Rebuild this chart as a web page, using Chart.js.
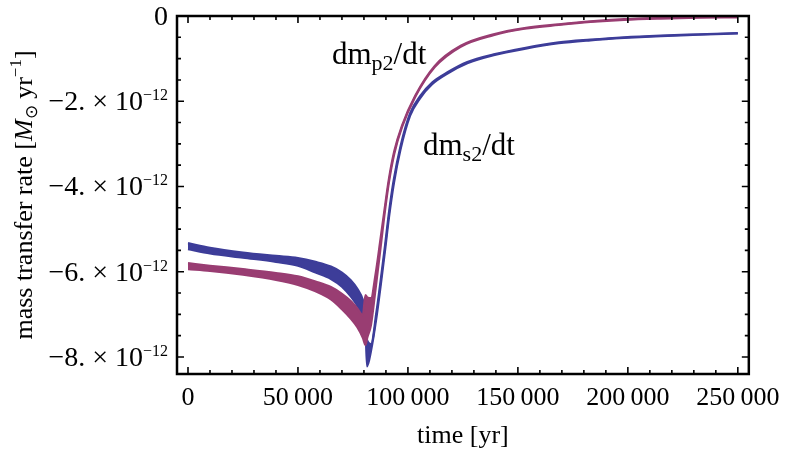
<!DOCTYPE html>
<html>
<head>
<meta charset="utf-8">
<script src="https://cdn.jsdelivr.net/npm/chart.js@4.4.1/dist/chart.umd.min.js"></script>
<style>
html, body { margin: 0; padding: 0; background: #fff; }
canvas { display: block; }
</style>
</head>
<body>
<canvas id="chart" width="789" height="458"></canvas>
<script>
// mass transfer rates, in units of 1e-12 Msun/yr
// each curve oscillates fast, so it is drawn as an upper and a lower envelope
var blueTime  = [0, 10000, 25000, 40000, 50000, 58000, 65000, 70000, 74000, 77000, 79500, 80600, 81400, 83200, 85700, 87700, 89600, 91400, 93600, 96600, 101000, 105500, 111000, 118000, 127000, 139000, 153000, 168600, 183000, 198300, 215000, 232000, 250000];
var blueUpper = [-5.33, -5.44, -5.55, -5.63, -5.68, -5.77, -5.88, -6.02, -6.20, -6.40, -6.66, -6.92, -7.60, -7.70, -6.94, -6.16, -5.38, -4.60, -3.83, -3.06, -2.28, -1.88, -1.56, -1.32, -1.08, -0.90, -0.75, -0.62, -0.555, -0.50, -0.46, -0.43, -0.40];
var blueLower = [-5.47, -5.57, -5.67, -5.77, -5.86, -6.02, -6.17, -6.35, -6.58, -6.80, -7.05, -7.20, -8.22, -7.86, -7.07, -6.29, -5.50, -4.72, -3.93, -3.14, -2.34, -1.93, -1.60, -1.35, -1.11, -0.92, -0.77, -0.64, -0.57, -0.515, -0.47, -0.44, -0.41];

var pinkTime  = [0, 10000, 25000, 40000, 50000, 58000, 65000, 70000, 74000, 77000, 79500, 80700, 81500, 83200, 85300, 87300, 89200, 91300, 93800, 97300, 103300, 112200, 124000, 138900, 153000, 168600, 183000, 198300, 215000, 232000, 250000];
var pinkUpper = [-5.80, -5.86, -5.94, -6.03, -6.11, -6.23, -6.36, -6.52, -6.69, -6.86, -7.02, -6.55, -6.60, -6.62, -6.05, -5.32, -4.60, -3.84, -3.17, -2.57, -1.87, -1.17, -0.70, -0.43, -0.285, -0.195, -0.125, -0.075, -0.045, -0.025, -0.015];
var pinkLower = [-5.94, -5.98, -6.07, -6.19, -6.31, -6.46, -6.65, -6.88, -7.10, -7.30, -7.55, -7.72, -7.55, -7.25, -6.40, -5.55, -4.72, -3.92, -3.23, -2.61, -1.90, -1.20, -0.72, -0.45, -0.30, -0.21, -0.14, -0.09, -0.06, -0.04, -0.03];

var xTicks = [0, 50000, 100000, 150000, 200000, 250000];
var yTicks = [0, -2, -4, -6, -8];
var yTickMain = ['0', '\u22122. \u00d7 10', '\u22124. \u00d7 10', '\u22126. \u00d7 10', '\u22128. \u00d7 10'];
var yTickSup = ['', '\u221212', '\u221212', '\u221212', '\u221212'];

var ink = '#000';
var blue = '#3d3d99';
var pink = '#993d72';
var serif = "'Liberation Serif', 'Times New Roman', serif";

function pts(t, v) {
    return t.map(function (x, i) { return { x: x, y: v[i] }; });
}

function thousands(v) {
    return String(v).replace(/\B(?=(\d{3})+(?!\d))/g, '\u2009');
}

// text made of pieces in different fonts / offsets: [text, font, dy]
function drawRich(c, parts, x, y, align) {
    var w = 0;
    parts.forEach(function (p) { c.font = p[1]; w += c.measureText(p[0]).width; });
    var cx = align === 'center' ? x - w / 2 : x;
    c.textAlign = 'left';
    parts.forEach(function (p) {
        c.font = p[1];
        c.fillText(p[0], cx, y + p[2]);
        cx += c.measureText(p[0]).width;
    });
}

var framePlugin = {
    id: 'frame',
    afterDraw: function (chart) {
        var c = chart.ctx, a = chart.chartArea, xs = chart.scales.x, ys = chart.scales.y;
        var t, v, p, len;
        c.save();
        c.strokeStyle = ink;
        c.lineWidth = 2.5;
        c.strokeRect(a.left, a.top, a.right - a.left, a.bottom - a.top);

        // inward ticks on all four sides
        c.lineWidth = 1.6;
        c.beginPath();
        for (t = 0; t <= 250000; t += 10000) {
            p = xs.getPixelForValue(t);
            len = t % 50000 === 0 ? 7 : 4;
            c.moveTo(p, a.bottom); c.lineTo(p, a.bottom - len);
            c.moveTo(p, a.top); c.lineTo(p, a.top + len);
        }
        for (v = 0; v >= -8; v -= 0.5) {
            p = ys.getPixelForValue(v);
            len = v % 2 === 0 ? 7 : 4;
            c.moveTo(a.left, p); c.lineTo(a.left + len, p);
            c.moveTo(a.right, p); c.lineTo(a.right - len, p);
        }
        c.stroke();

        c.fillStyle = ink;
        c.textBaseline = 'alphabetic';

        // y tick labels with exponent
        var tickFont = '28px ' + serif, supFont = '16px ' + serif;
        yTicks.forEach(function (val, i) {
            var py = ys.getPixelForValue(val);
            var right = a.left - 9;
            var sw = 0;
            c.textAlign = 'right';
            if (yTickSup[i]) {
                c.font = supFont;
                sw = c.measureText(yTickSup[i]).width;
                c.fillText(yTickSup[i], right, py - 1);
            }
            c.font = tickFont;
            c.fillText(yTickMain[i], right - sw, py + 9);
        });

        // axis titles
        drawRich(c, [['time [yr]', '26px ' + serif, 0]], (a.left + a.right) / 2, 443, 'center');

        c.save();
        c.translate(32, (a.top + a.bottom) / 2);
        c.rotate(-Math.PI / 2);
        drawRich(c, [
            ['mass transfer rate [', '26px ' + serif, 0],
            ['M', 'italic 26px ' + serif, 0],
            ['\u2299', '17px ' + serif, 5],
            [' yr', '26px ' + serif, 0],
            ['\u22121', '17px ' + serif, -11],
            [']', '26px ' + serif, 0]
        ], 0, 0, 'center');
        c.restore();

        // curve labels
        drawRich(c, [['dm', '31px ' + serif, 0], ['p2', '22px ' + serif, 6], ['/dt', '31px ' + serif, 0]], 332, 64, 'left');
        drawRich(c, [['dm', '31px ' + serif, 0], ['s2', '22px ' + serif, 6], ['/dt', '31px ' + serif, 0]], 423, 155, 'left');
        c.restore();
    }
};

var ctx = document.getElementById('chart').getContext('2d');
var myChart = new Chart(ctx, {
    type: 'line',
    data: {
        datasets: [
            { label: 'dm_p2/dt', data: pts(pinkTime, pinkUpper), borderColor: pink, backgroundColor: pink, fill: '+1' },
            { label: 'dm_p2/dt (lower)', data: pts(pinkTime, pinkLower), borderColor: pink, backgroundColor: pink, fill: false },
            { label: 'dm_s2/dt', data: pts(blueTime, blueUpper), borderColor: blue, backgroundColor: blue, fill: '+1' },
            { label: 'dm_s2/dt (lower)', data: pts(blueTime, blueLower), borderColor: blue, backgroundColor: blue, fill: false }
        ]
    },
    options: {
        responsive: false,
        animation: false,
        devicePixelRatio: 1,
        layout: { padding: { top: 16, right: 30, left: 0, bottom: 0 } },
        plugins: {
            legend: { display: false },
            tooltip: { enabled: false }
        },
        elements: {
            point: { radius: 0 },
            line: { borderWidth: 2.2, cubicInterpolationMode: 'monotone' }
        },
        scales: {
            x: {
                type: 'linear',
                min: -5000,
                max: 255000,
                grid: { display: false, drawTicks: false },
                border: { display: false },
                afterBuildTicks: function (s) { s.ticks = xTicks.map(function (v) { return { value: v }; }); },
                afterFit: function (s) { s.height = 84; },
                ticks: {
                    font: { family: serif, size: 26 },
                    color: ink,
                    padding: 9,
                    maxRotation: 0,
                    autoSkip: false,
                    callback: function (v) { return thousands(v); }
                }
            },
            y: {
                type: 'linear',
                min: -8.4,
                max: 0,
                grid: { display: false, drawTicks: false },
                border: { display: false },
                afterBuildTicks: function (s) { s.ticks = yTicks.map(function (v) { return { value: v }; }); },
                afterFit: function (s) { s.width = 177; },
                ticks: { display: false }
            }
        }
    },
    plugins: [framePlugin]
});
</script>
</body>
</html>
